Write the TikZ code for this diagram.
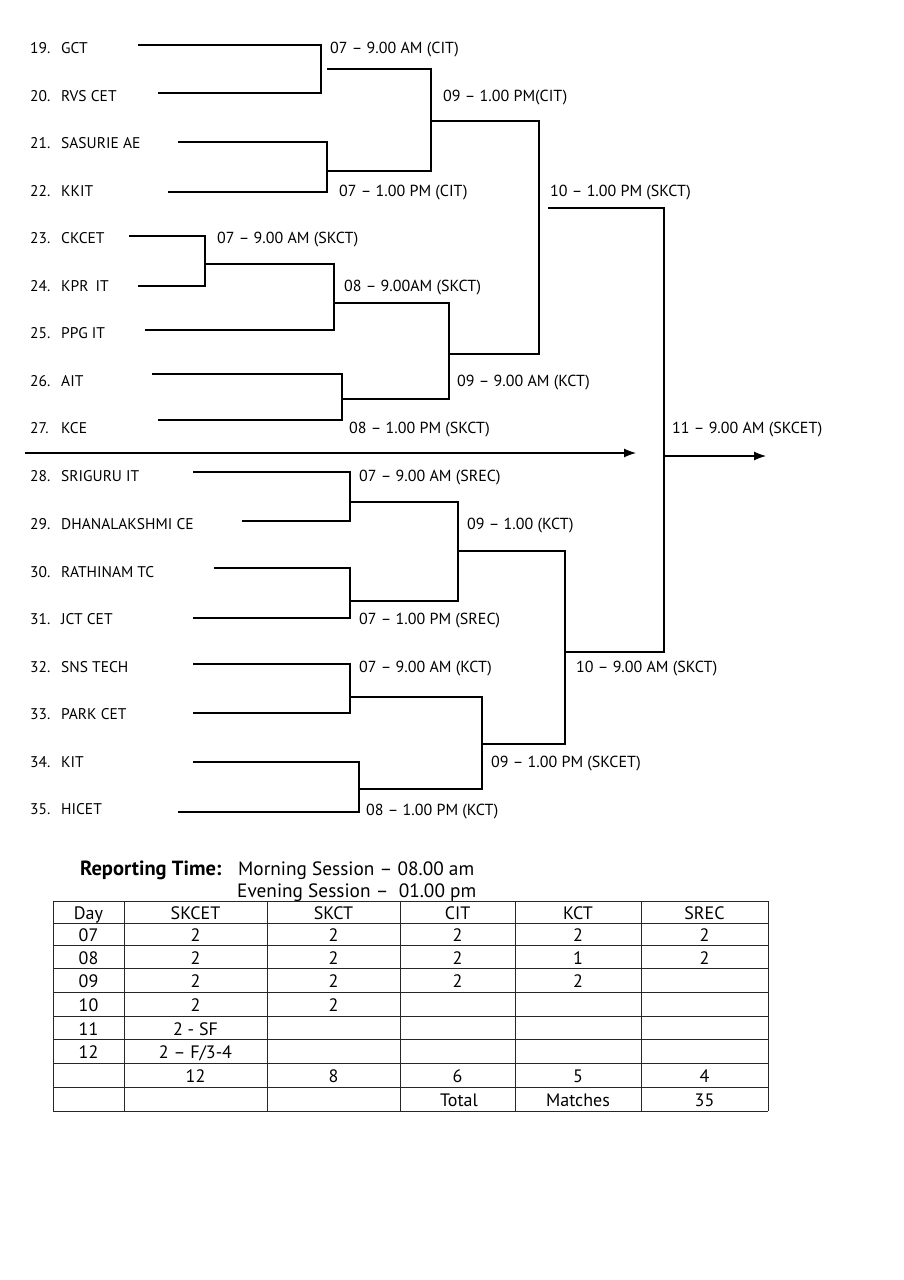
\documentclass[tikz,border=0pt]{standalone}
\usepackage{fontspec}
\setmainfont{PT Sans}
\usetikzlibrary{arrows.meta}
\begin{document}
\begin{tikzpicture}[x=1pt,y=-1pt,
  line/.style={line width=1.1pt, black},
  gridline/.style={line width=1pt, black!85},
  team/.style={anchor=base west, inner sep=0pt, font=\fontsize{15.5}{18}\selectfont},
  lab/.style={anchor=base west, inner sep=0pt, font=\fontsize{16}{18}\selectfont},
  cell/.style={anchor=base, inner sep=0pt, font=\fontsize{18}{20}\selectfont},
  rep/.style={anchor=base west, inner sep=0pt, font=\fontsize{19.3}{22}\selectfont},
  arr/.style={line, -{Latex[length=12pt,width=9pt]}}]
\useasboundingbox (0,0) rectangle (904,1280);

% teams
\foreach \n/\t/\y in {19/GCT/53, 20/RVS CET/101, 21/SASURIE AE/148, 22/KKIT/196,
  23/CKCET/243, 24/{KPR\hspace{0.45em}IT}/291, 25/PPG IT/338, 26/AIT/386, 27/KCE/433,
  28/SRIGURU IT/481, 29/DHANALAKSHMI CE/529, 30/RATHINAM TC/577, 31/JCT CET/624,
  32/SNS TECH/672, 33/PARK CET/719, 34/KIT/767, 35/HICET/814}{
  \node[team] (num\n) at (30,\y) {\n.};
  \node[team] (team\n) at (61,\y) {\t};
}

% match labels
\node[lab] (m1) at (330,53) {07 – 9.00 AM (CIT)};
\node[lab] (m2) at (443,101) {09 – 1.00 PM(CIT)};
\node[lab] (m3) at (339,196) {07 – 1.00 PM (CIT)};
\node[lab] (m4) at (550,196) {10 – 1.00 PM (SKCT)};
\node[lab] (m5) at (217,243) {07 – 9.00 AM (SKCT)};
\node[lab] (m6) at (344,291) {08 – 9.00AM (SKCT)};
\node[lab] (m7) at (457,386) {09 – 9.00 AM (KCT)};
\node[lab] (m8) at (349,433) {08 – 1.00 PM (SKCT)};
\node[lab] (m9) at (672,433) {11 – 9.00 AM (SKCET)};
\node[lab] (m10) at (359,481) {07 – 9.00 AM (SREC)};
\node[lab] (m11) at (467,529) {09 – 1.00 (KCT)};
\node[lab] (m12) at (359,624) {07 – 1.00 PM (SREC)};
\node[lab] (m13) at (359,672) {07 – 9.00 AM (KCT)};
\node[lab] (m14) at (576,672) {10 – 9.00 AM (SKCT)};
\node[lab] (m15) at (491,767) {09 – 1.00 PM (SKCET)};
\node[lab] (m16) at (366,815) {08 – 1.00 PM (KCT)};

% upper bracket
\draw[line] (138,45) -| (321,93) -- (158,93);
\draw[line] (178,142) -| (327,192) -- (168,192);
\draw[line] (327,69) -| (431,171) -- (327,171);
\draw[line] (431,121) -| (539,354) -- (449,354);
\draw[line] (129,236) -| (205,286) -- (138,286);
\draw[line] (205,264) -| (334,330) -- (145,330);
\draw[line] (152,374) -| (342,420) -- (158,420);
\draw[line] (334,303) -| (449,399) -- (342,399);
\draw[line] (548,208) -| (664,652) -- (565,652);
\draw[arr] (25,453) -- (636,453);
\draw[arr] (664,456) -- (766,456);

% lower bracket
\draw[line] (193,472) -| (350,521) -- (242,521);
\draw[line] (214,568) -| (350,618) -- (193,618);
\draw[line] (350,502) -| (458,601) -- (350,601);
\draw[line] (458,551) -| (565,744) -- (482,744);
\draw[line] (193,664) -| (350,713) -- (193,713);
\draw[line] (193,762) -| (359,812) -- (178,812);
\draw[line] (350,697) -| (482,789) -- (359,789);

% reporting time
\node[rep, font=\bfseries\fontsize{20.5}{22}\selectfont] (rt) at (80,875) {Reporting Time:};
\node[rep] (ms) at (238,875) {Morning Session – 08.00 am};
\node[rep] (es) at (237,897) {Evening Session –\ \ 01.00 pm};

% table grid
\foreach \x in {53,124,267,400,515,641,768} \draw[gridline] (\x,901) -- (\x,1111);
\foreach \y in {901,923,945,968,992,1016,1039,1063,1087,1111} \draw[gridline] (53,\y) -- (768,\y);

% table text
\foreach \x/\t [count=\i] in {88.5/Day,195.5/SKCET,333.5/SKCT,457.5/CIT,578/KCT,704.5/SREC}
  \node[cell] (h\i) at (\x,919) {\t};
\foreach \x/\t [count=\i] in {88.5/07,195.5/2,333.5/2,457.5/2,578/2,704.5/2}
  \node[cell] (a\i) at (\x,941) {\t};
\foreach \x/\t [count=\i] in {88.5/08,195.5/2,333.5/2,457.5/2,578/1,704.5/2}
  \node[cell] (b\i) at (\x,964) {\t};
\foreach \x/\t [count=\i] in {88.5/09,195.5/2,333.5/2,457.5/2,578/2}
  \node[cell] (c\i) at (\x,987) {\t};
\foreach \x/\t [count=\i] in {88.5/10,195.5/2,333.5/2}
  \node[cell] (d\i) at (\x,1011) {\t};
\node[cell] (e1) at (88.5,1035) {11};
\node[cell] (e2) at (195.5,1035) {2 - SF};
\node[cell] (f1) at (88.5,1058) {12};
\node[cell] (f2) at (195.5,1058) {2 – F/3-4};
\foreach \x/\t [count=\i] in {195.5/12,333.5/8,457.5/6,578/5,704.5/4}
  \node[cell] (g\i) at (\x,1082) {\t};
\foreach \x/\t [count=\i] in {459/Total,578/Matches,704.5/35}
  \node[cell] (k\i) at (\x,1106) {\t};
\end{tikzpicture}
\end{document}
